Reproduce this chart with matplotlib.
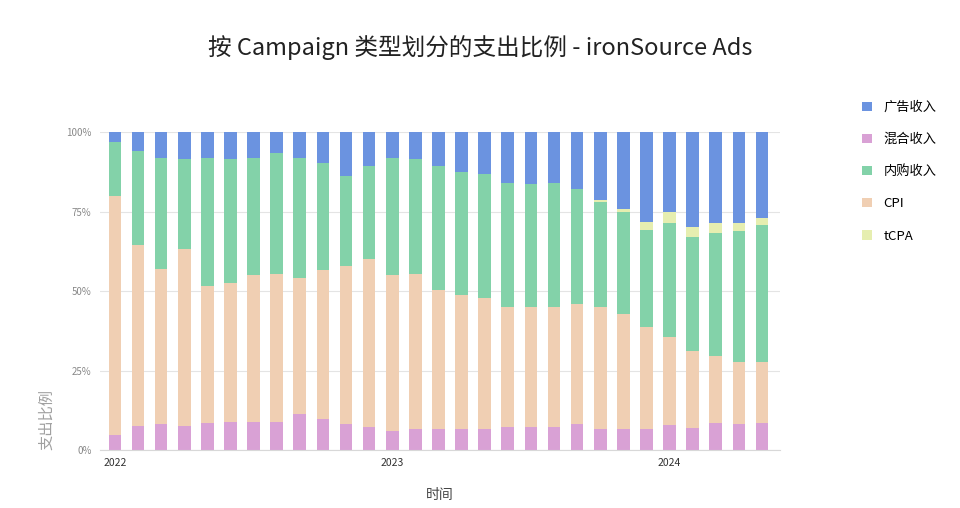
import matplotlib
matplotlib.use('Agg')
import matplotlib.pyplot as plt
import numpy as np

plt.rcParams['font.family'] = ['Noto Sans CJK SC', 'DejaVu Sans']

# monthly shares (%), 2022-01 .. 2024-05
months = ['2022-%02d' % m for m in range(1, 13)] + ['2023-%02d' % m for m in range(1, 13)] + ['2024-%02d' % m for m in range(1, 6)]
mixed = [4.9, 7.5, 8.1, 7.5, 8.4, 8.8, 8.8, 8.8, 11.2, 9.9, 8.1, 7.3,
         6.0, 6.5, 6.7, 6.7, 6.7, 7.3, 7.3, 7.3, 8.1, 6.7, 6.7, 6.7,
         7.8, 6.9, 8.6, 8.1, 8.6]
cpi = [75.0, 56.9, 48.7, 55.8, 43.2, 43.8, 46.4, 46.7, 43.0, 46.6, 49.8, 52.7,
       49.2, 49.0, 43.5, 42.1, 41.0, 37.8, 37.8, 37.8, 37.7, 38.4, 36.0, 32.1,
       27.8, 24.2, 21.1, 19.6, 19.0]
inapp = [17.1, 29.5, 35.1, 28.2, 40.3, 38.9, 36.7, 37.8, 37.7, 33.8, 28.3, 29.4,
         36.7, 36.0, 39.2, 38.8, 39.0, 39.0, 38.5, 39.0, 36.2, 32.9, 32.2, 30.5,
         35.7, 35.9, 38.6, 41.2, 43.1]
tcpa = [0, 0, 0, 0, 0, 0, 0, 0, 0, 0, 0, 0,
        0, 0, 0, 0, 0, 0, 0, 0, 0, 0.6, 1.0, 2.5,
        3.6, 3.0, 3.2, 2.6, 2.3]
ad = [3.0, 6.1, 8.1, 8.5, 8.1, 8.5, 8.1, 6.7, 8.1, 9.7, 13.8, 10.6,
      8.1, 8.5, 10.6, 12.4, 13.3, 15.9, 16.4, 15.9, 18.0, 21.3, 24.1, 28.2,
      25.1, 30.0, 28.5, 28.5, 27.0]

series = [('混合收入', mixed, '#d9a1d5'),
          ('CPI', cpi, '#f0cfb3'),
          ('内购收入', inapp, '#83d2a9'),
          ('tCPA', tcpa, '#e6eeb0'),
          ('广告收入', ad, '#6b93e0')]
legend_order = ['广告收入', '混合收入', '内购收入', 'CPI', 'tCPA']

fig = plt.figure(figsize=(9.6, 5.08), dpi=100)
ax = fig.add_axes([0.104, 0.114, 0.709, 0.626])

x = np.arange(len(months))
bottom = np.zeros(len(months))
handles = {}
for name, vals, color in series:
    v = np.array(vals)
    h = ax.bar(x, v, 0.55, bottom=bottom, color=color, label=name, linewidth=0)
    handles[name] = h
    bottom += v

ax.set_xlim(-0.65, 28.8)
ax.set_ylim(0, 100)
ax.set_yticks([0, 25, 50, 75, 100])
ax.set_yticklabels(['0%', '25%', '50%', '75%', '100%'], color='#888888', fontsize=7)
ax.set_xticks([0, 12, 24])
ax.set_xticklabels(['2022', '2023', '2024'], color='#333333', fontsize=7.5)
ax.tick_params(length=0, pad=6)
ax.grid(axis='y', color='#e4e4e4', linewidth=0.8)
ax.set_axisbelow(True)
for s in ['top', 'right', 'left']:
    ax.spines[s].set_visible(False)
ax.spines['bottom'].set_color('#d8d8d8')

ax.set_xlabel('时间', fontsize=10, color='#444444', labelpad=14)
ax.set_ylabel('支出比例', fontsize=11, color='#a0a0a0', loc='bottom', labelpad=8)

fig.suptitle('按 Campaign 类型划分的支出比例 - ironSource Ads', fontsize=17, y=0.93, color='#222222')

ax.legend([handles[n] for n in legend_order], legend_order, loc='upper left',
          bbox_to_anchor=(1.103, 1.135), frameon=False, fontsize=9.5,
          handlelength=0.7, handleheight=0.7, labelspacing=1.45, handletextpad=0.9)

fig.savefig('out.png', dpi=100)
plt.close(fig)
